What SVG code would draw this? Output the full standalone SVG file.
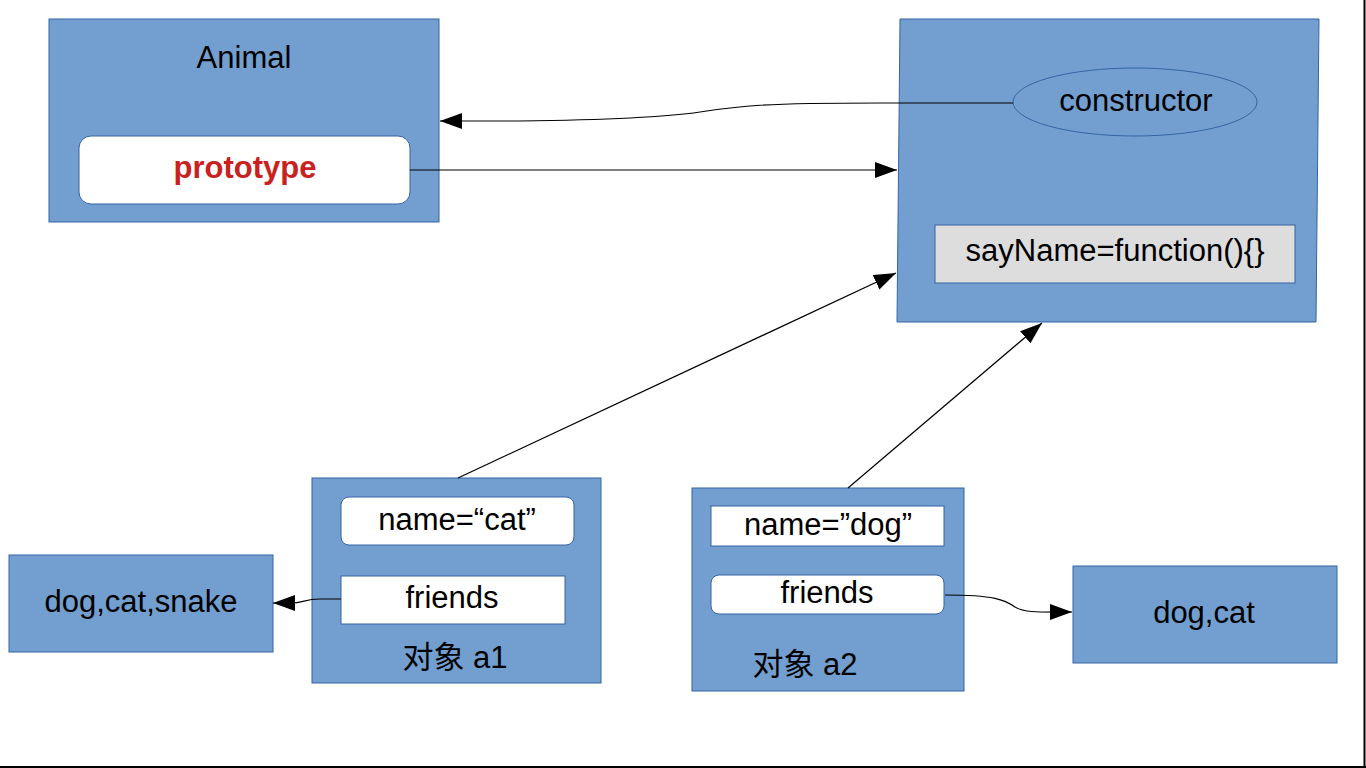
<svg xmlns="http://www.w3.org/2000/svg" width="1366" height="768" viewBox="0 0 1366 768">
<defs>
<marker id="arr" markerUnits="userSpaceOnUse" markerWidth="24" markerHeight="16" refX="22" refY="8" orient="auto">
<path d="M0,0 L22,8 L0,16 Z" fill="#000"/>
</marker>
<style>
.box{fill:#729fcf;stroke:#3465a4;stroke-width:1}
.wh{fill:#ffffff;stroke:#3465a4;stroke-width:1}
.t{font-family:"Liberation Sans","Noto Sans CJK SC",Arial,sans-serif;font-size:31px;fill:#000;text-anchor:middle}
.c{fill:none;stroke:#000;stroke-width:1.2;marker-end:url(#arr)}
</style>
</defs>
<rect width="1366" height="768" fill="#fff"/>
<line x1="1364.5" y1="0" x2="1364.5" y2="768" stroke="#000" stroke-width="2"/>
<line x1="0" y1="767" x2="1366" y2="767" stroke="#000" stroke-width="2"/>

<g id="animal">
<rect class="box" x="49" y="19" width="390" height="203"/>
<text class="t" x="244" y="68">Animal</text>
<rect class="wh" x="79" y="136" width="331" height="68" rx="12"/>
<text class="t" x="245" y="178" style="font-weight:bold;fill:#c9211e">prototype</text>
</g>

<g id="proto">
<polygon class="box" points="900,19 1319,19 1316,322 897,322"/>
<ellipse cx="1135" cy="102" rx="122" ry="34" fill="#729fcf" stroke="#3465a4" stroke-width="1"/>
<text class="t" x="1136" y="111">constructor</text>
<rect x="935" y="225" width="360" height="58" fill="#dddddd" stroke="#3465a4" stroke-width="1"/>
<text class="t" x="1115" y="261">sayName=function(){}</text>
</g>

<g id="a1">
<rect class="box" x="312" y="478" width="289" height="205"/>
<rect class="wh" x="341" y="497" width="233" height="48" rx="8"/>
<text class="t" x="457" y="530">name=“cat”</text>
<rect class="wh" x="341" y="576" width="224" height="48"/>
<text class="t" x="452" y="608">friends</text>
<text class="t" x="455" y="668">对象 a1</text>
</g>

<g id="snake">
<rect class="box" x="9" y="555" width="264" height="97"/>
<text class="t" x="141" y="612">dog,cat,snake</text>
</g>

<g id="a2">
<rect class="box" x="692" y="488" width="272" height="203"/>
<rect class="wh" x="711" y="506" width="233" height="40"/>
<text class="t" x="828" y="535">name=”dog”</text>
<rect class="wh" x="711" y="575" width="233" height="39" rx="8"/>
<text class="t" x="827" y="603">friends</text>
<text class="t" x="805" y="675">对象 a2</text>
</g>

<g id="dogcat">
<rect class="box" x="1073" y="566" width="264" height="97"/>
<text class="t" x="1204" y="623">dog,cat</text>
</g>

<g id="connectors">
<path class="c" d="M1013,103 L880,103 C760,103 740,106 700,112 C660,118 600,120 520,121 L440,121"/>
<path class="c" d="M410,170 L897,170"/>
<path class="c" d="M458,478 L896,273"/>
<path class="c" d="M848,488 L1042,323"/>
<path class="c" d="M341,599 L320,599 C305,599 302,603 292,603 L273,603"/>
<path class="c" d="M945,595 C995,595 1005,600 1015,607 C1025,613 1040,612 1072,612"/>
</g>
</svg>
